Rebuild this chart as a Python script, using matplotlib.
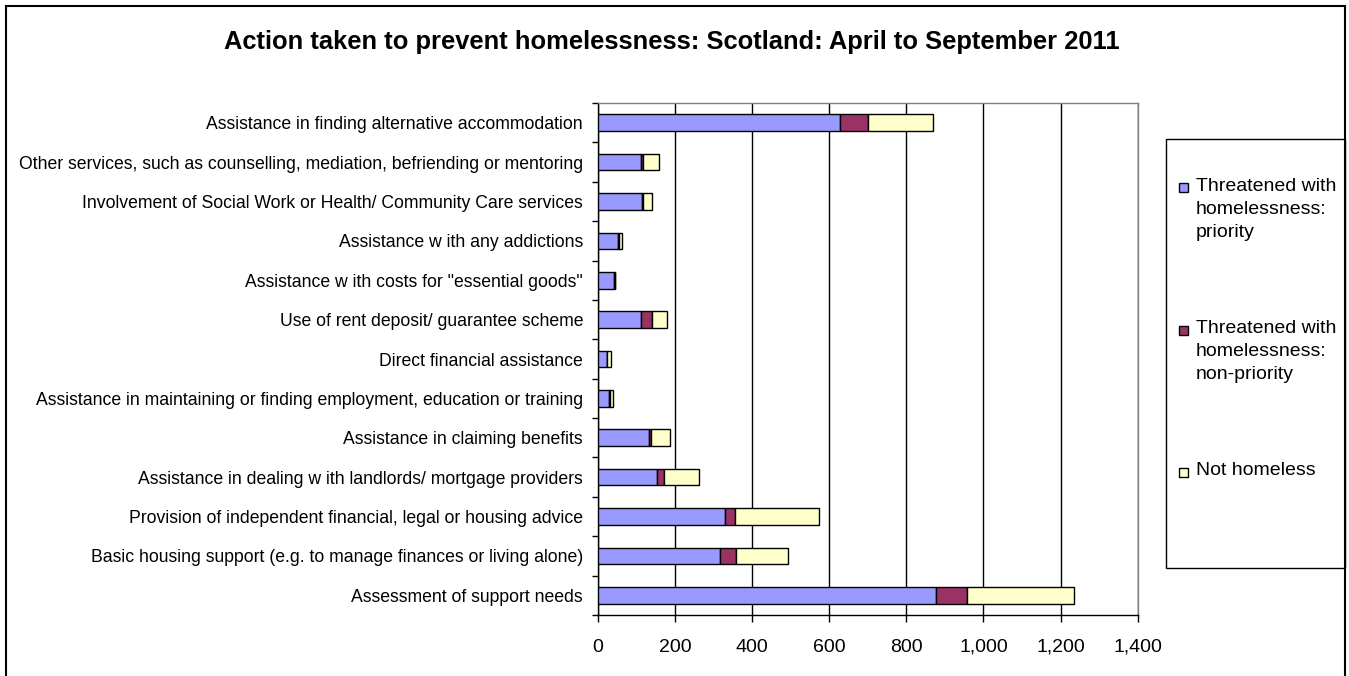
import matplotlib.pyplot as plt
import numpy as np
from matplotlib.patches import Rectangle

plt.rcParams['font.family'] = ['Liberation Sans', 'DejaVu Sans']

# === data (top to bottom as shown) ===
categories = [
    "Assistance in finding alternative accommodation",
    "Other services, such as counselling, mediation, befriending or mentoring",
    "Involvement of Social Work or Health/ Community Care services",
    "Assistance w ith any addictions",
    "Assistance w ith costs for \"essential goods\"",
    "Use of rent deposit/ guarantee scheme",
    "Direct financial assistance",
    "Assistance in maintaining or finding employment, education or training",
    "Assistance in claiming benefits",
    "Assistance in dealing w ith landlords/ mortgage providers",
    "Provision of independent financial, legal or housing advice",
    "Basic housing support (e.g. to manage finances or living alone)",
    "Assessment of support needs",
]
priority     = [629, 112, 115, 53, 41, 112, 23, 28, 133, 155, 329, 317, 878]
non_priority = [73, 6, 2, 3, 3, 29, 2, 5, 5, 16, 26, 41, 79]
not_homeless = [166, 40, 25, 6, 1, 39, 9, 7, 49, 92, 219, 136, 279]

series_names = ["Threatened with\nhomelessness:\npriority",
                "Threatened with\nhomelessness:\nnon-priority",
                "Not homeless"]
colors = ["#9999FF", "#993366", "#FFFFCC"]
xticks = [0, 200, 400, 600, 800, 1000, 1200, 1400]

W, H = 1349, 676


def fx(px):
    return px / W


def fy(py):
    return 1 - py / H


fig = plt.figure(figsize=(W / 100, H / 100), dpi=100)
ax = fig.add_axes([fx(597.7), fy(615), (1137.7 - 597.7) / W, (615 - 103) / H])

# reverse so first category is on top
n = len(categories)
y = np.arange(n)[::-1]
left = np.zeros(n)
for vals, col in zip([priority, non_priority, not_homeless], colors):
    ax.barh(y, vals, left=left, height=0.42, color=col, edgecolor='black',
            linewidth=1, zorder=3)
    left = left + np.array(vals)

ax.set_xlim(0, 1400)
ax.set_ylim(-0.5, n - 0.5)
ax.set_xticks(xticks)
ax.set_xticklabels([f"{v:,}" for v in xticks], fontsize=14)
ax.set_yticks(y)
ax.set_yticklabels(categories, fontsize=12.7)
ax.set_yticks(np.arange(n + 1) - 0.5, minor=True)

ax.tick_params(axis='y', which='major', length=0, pad=10.5)
ax.tick_params(axis='y', which='minor', length=4.5, width=1, direction='out', color='black')
ax.tick_params(axis='x', length=5, width=1, direction='out', pad=12, color='black')

ax.xaxis.grid(True, color='black', linewidth=1, zorder=0)
ax.set_axisbelow(True)
for s in ['left', 'bottom']:
    ax.spines[s].set_color('black')
    ax.spines[s].set_linewidth(1)
for s in ['top', 'right']:
    ax.spines[s].set_color('#808080')
    ax.spines[s].set_linewidth(1)

# title
fig.text(fx(671.5), fy(42), "Action taken to prevent homelessness: Scotland: April to September 2011",
         ha='center', va='center', fontsize=18.4, fontweight='bold')

# outer frame
fig.patches.append(Rectangle((fx(5.5), fy(680)), fx(1345 - 5.5), (680 - 6) / H,
                             transform=fig.transFigure, fill=False,
                             edgecolor='black', linewidth=1.5))

# legend (drawn by hand so the markers sit on the first text line)
fig.patches.append(Rectangle((fx(1166), fy(568)), fx(1345 - 1166), (568 - 139) / H,
                             transform=fig.transFigure, fill=False,
                             edgecolor='black', linewidth=1))
entry_y = [188, 330, 472]
for name, col, ey in zip(series_names, colors, entry_y):
    fig.patches.append(Rectangle((fx(1179), fy(ey + 4.5)), fx(9), 9 / H,
                                 transform=fig.transFigure, facecolor=col,
                                 edgecolor='black', linewidth=1))
    fig.text(fx(1196), fy(ey - 10), name, ha='left', va='top', fontsize=14,
             linespacing=1.45)

fig.savefig("out.png", dpi=100)
